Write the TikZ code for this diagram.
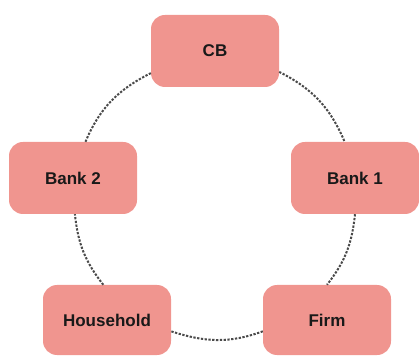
\documentclass[tikz,border=0pt]{standalone}
\usepackage{fontspec}
\setmainfont{Liberation Sans}
\usetikzlibrary{arrows.meta}

\definecolor{agentfill}{HTML}{F0958F}
\definecolor{linkgray}{HTML}{4A4A4A}

\begin{document}
\begin{tikzpicture}[x=1pt,y=1pt,
  agent/.style={fill=agentfill,draw=none,rounded corners=14pt,minimum width=128pt,
    minimum height=72pt,inner sep=0pt,font=\fontsize{17}{20}\selectfont\bfseries,text=black!90},
  flow/.style={draw=linkgray,line width=2pt,dash pattern=on 2.3pt off 1.5pt}]
\useasboundingbox (0,0) rectangle (419,358);
% agents round the ring
\node[agent] (cb) at (215,307) {CB};
\node[agent] (bank1) at (355,180) {Bank 1};
\node[agent] (bank2) at (73,180) {Bank 2};
\node[agent,minimum height=70pt] (household) at (107,38) {Household};
\node[agent,minimum height=70pt] (firm) at (327,38) {Firm};
% dotted ring, one piece between each pair
\draw[flow] (cb.-18.5) to[out=-27,in=113] (bank1.106);
\draw[flow] (bank1.south) to[out=-96,in=52] (firm.north);
\draw[flow] (firm.-170) to[out=-160,in=-18] (household.-10);
\draw[flow] (household.96) to[out=128,in=-84] (bank2.-87);
\draw[flow] (bank2.71) to[out=67,in=-153] (cb.-161.5);
\end{tikzpicture}
\end{document}
